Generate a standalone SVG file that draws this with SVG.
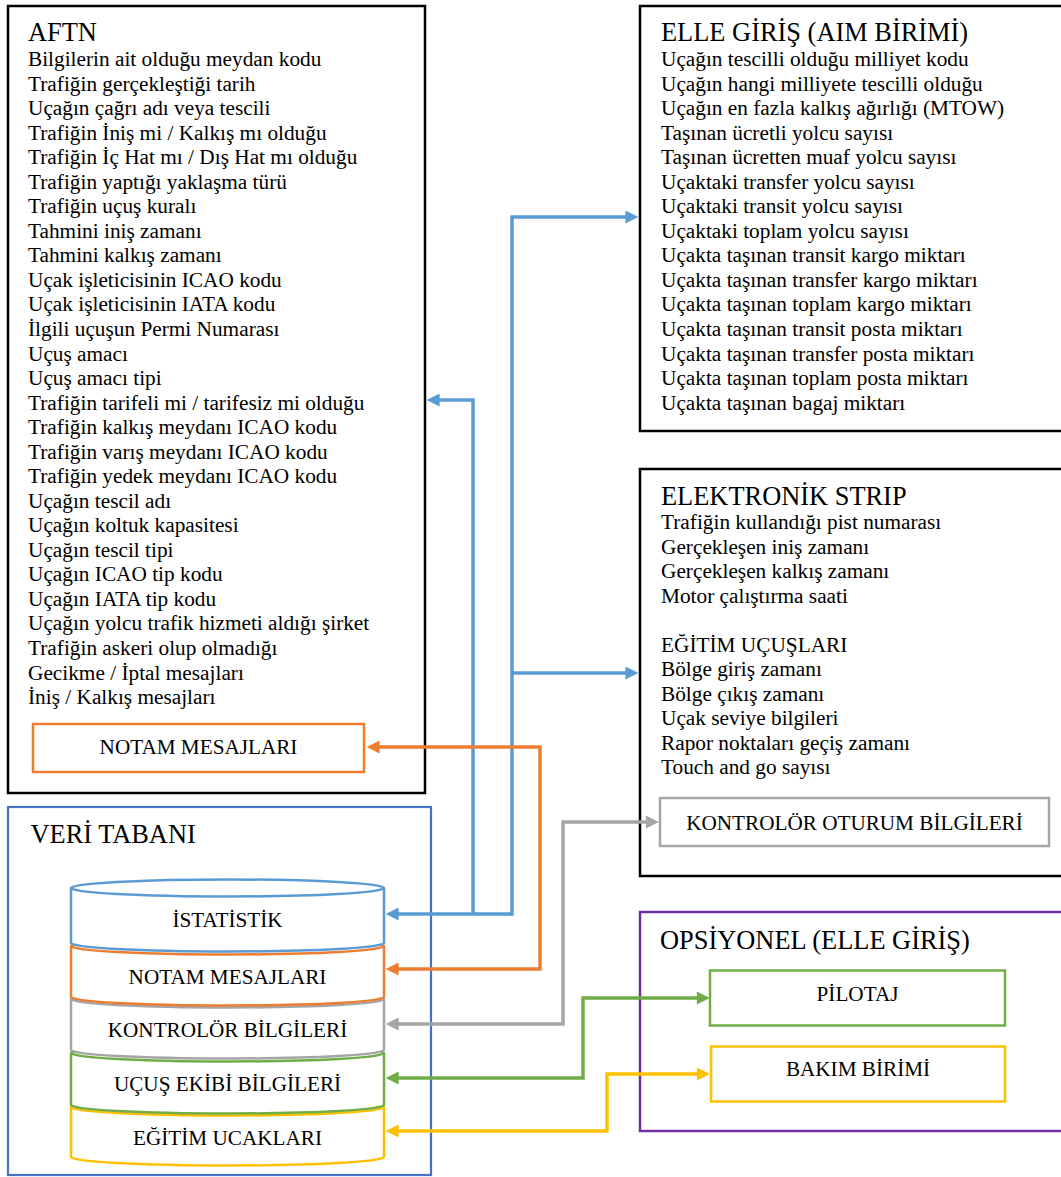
<svg xmlns="http://www.w3.org/2000/svg" width="1061" height="1177" viewBox="0 0 1061 1177">
  <style>
    text { font-family: "Liberation Serif", "Times New Roman", serif; fill: #000; }
    .title { font-size: 26.4px; }
    .body { font-size: 21.3px; }
    .lbl { font-size: 21.2px; text-anchor: middle; }
    .box { fill: #fff; stroke: #000; stroke-width: 2.5; }
    .conn { fill: none; stroke-width: 3.5; stroke-linejoin: miter; }
    .can { fill: #fff; stroke-width: 2.5; }
  </style>
  <defs>
    <marker id="ah-blue" viewBox="0 0 10 10" refX="7" refY="5" markerUnits="userSpaceOnUse" markerWidth="14" markerHeight="13" orient="auto-start-reverse"><path d="M0,0 L10,5 L0,10 z" fill="#5B9BD5"/></marker>
    <marker id="ah-orange" viewBox="0 0 10 10" refX="7" refY="5" markerUnits="userSpaceOnUse" markerWidth="14" markerHeight="13" orient="auto-start-reverse"><path d="M0,0 L10,5 L0,10 z" fill="#ED7D31"/></marker>
    <marker id="ah-gray" viewBox="0 0 10 10" refX="7" refY="5" markerUnits="userSpaceOnUse" markerWidth="14" markerHeight="13" orient="auto-start-reverse"><path d="M0,0 L10,5 L0,10 z" fill="#A5A5A5"/></marker>
    <marker id="ah-green" viewBox="0 0 10 10" refX="7" refY="5" markerUnits="userSpaceOnUse" markerWidth="14" markerHeight="13" orient="auto-start-reverse"><path d="M0,0 L10,5 L0,10 z" fill="#70AD47"/></marker>
    <marker id="ah-yellow" viewBox="0 0 10 10" refX="7" refY="5" markerUnits="userSpaceOnUse" markerWidth="14" markerHeight="13" orient="auto-start-reverse"><path d="M0,0 L10,5 L0,10 z" fill="#FFC000"/></marker>
  </defs>

  <rect width="1061" height="1177" fill="#fff"/>

  <!-- AFTN source -->
  <g id="aftn">
    <rect class="box" x="8" y="6" width="417" height="787"/>
    <text class="title" x="28" y="41">AFTN</text>
    <text class="body" x="28" y="66">Bilgilerin ait olduğu meydan kodu</text>
    <text class="body" x="28" y="90.5">Trafiğin gerçekleştiği tarih</text>
    <text class="body" x="28" y="115.1">Uçağın çağrı adı veya tescili</text>
    <text class="body" x="28" y="139.6">Trafiğin İniş mi / Kalkış mı olduğu</text>
    <text class="body" x="28" y="164.2">Trafiğin İç Hat mı / Dış Hat mı olduğu</text>
    <text class="body" x="28" y="188.7">Trafiğin yaptığı yaklaşma türü</text>
    <text class="body" x="28" y="213.2">Trafiğin uçuş kuralı</text>
    <text class="body" x="28" y="237.8">Tahmini iniş zamanı</text>
    <text class="body" x="28" y="262.3">Tahmini kalkış zamanı</text>
    <text class="body" x="28" y="286.9">Uçak işleticisinin ICAO kodu</text>
    <text class="body" x="28" y="311.4">Uçak işleticisinin IATA kodu</text>
    <text class="body" x="28" y="335.9">İlgili uçuşun Permi Numarası</text>
    <text class="body" x="28" y="360.5">Uçuş amacı</text>
    <text class="body" x="28" y="385">Uçuş amacı tipi</text>
    <text class="body" x="28" y="409.6">Trafiğin tarifeli mi / tarifesiz mi olduğu</text>
    <text class="body" x="28" y="434.1">Trafiğin kalkış meydanı ICAO kodu</text>
    <text class="body" x="28" y="458.6">Trafiğin varış meydanı ICAO kodu</text>
    <text class="body" x="28" y="483.2">Trafiğin yedek meydanı ICAO kodu</text>
    <text class="body" x="28" y="507.7">Uçağın tescil adı</text>
    <text class="body" x="28" y="532.3">Uçağın koltuk kapasitesi</text>
    <text class="body" x="28" y="556.8">Uçağın tescil tipi</text>
    <text class="body" x="28" y="581.3">Uçağın ICAO tip kodu</text>
    <text class="body" x="28" y="605.9">Uçağın IATA tip kodu</text>
    <text class="body" x="28" y="630.4">Uçağın yolcu trafik hizmeti aldığı şirket</text>
    <text class="body" x="28" y="655">Trafiğin askeri olup olmadığı</text>
    <text class="body" x="28" y="679.5">Gecikme / İptal mesajları</text>
    <text class="body" x="28" y="704">İniş / Kalkış mesajları</text>
  </g>
  <g id="aftn-notam">
    <rect x="33" y="724" width="331" height="48" fill="#fff" stroke="#ED7D31" stroke-width="2.5"/>
    <text class="lbl" x="198.5" y="754">NOTAM MESAJLARI</text>
  </g>

  <!-- Manual entry (AIM) -->
  <g id="elle-giris">
    <rect class="box" x="640" y="6" width="440" height="425"/>
    <text class="title" x="661" y="41">ELLE GİRİŞ (AIM BİRİMİ)</text>
    <text class="body" x="661" y="66">Uçağın tescilli olduğu milliyet kodu</text>
    <text class="body" x="661" y="90.5">Uçağın hangi milliyete tescilli olduğu</text>
    <text class="body" x="661" y="115.1">Uçağın en fazla kalkış ağırlığı (MTOW)</text>
    <text class="body" x="661" y="139.6">Taşınan ücretli yolcu sayısı</text>
    <text class="body" x="661" y="164.2">Taşınan ücretten muaf yolcu sayısı</text>
    <text class="body" x="661" y="188.7">Uçaktaki transfer yolcu sayısı</text>
    <text class="body" x="661" y="213.2">Uçaktaki transit yolcu sayısı</text>
    <text class="body" x="661" y="237.8">Uçaktaki toplam yolcu sayısı</text>
    <text class="body" x="661" y="262.3">Uçakta taşınan transit kargo miktarı</text>
    <text class="body" x="661" y="286.9">Uçakta taşınan transfer kargo miktarı</text>
    <text class="body" x="661" y="311.4">Uçakta taşınan toplam kargo miktarı</text>
    <text class="body" x="661" y="335.9">Uçakta taşınan transit posta miktarı</text>
    <text class="body" x="661" y="360.5">Uçakta taşınan transfer posta miktarı</text>
    <text class="body" x="661" y="385">Uçakta taşınan toplam posta miktarı</text>
    <text class="body" x="661" y="409.6">Uçakta taşınan bagaj miktarı</text>
  </g>

  <!-- Electronic strip -->
  <g id="elektronik-strip">
    <rect class="box" x="640" y="469" width="440" height="407"/>
    <text class="title" x="661" y="505">ELEKTRONİK STRIP</text>
    <text class="body" x="661" y="529">Trafiğin kullandığı pist numarası</text>
    <text class="body" x="661" y="553.5">Gerçekleşen iniş zamanı</text>
    <text class="body" x="661" y="578">Gerçekleşen kalkış zamanı</text>
    <text class="body" x="661" y="602.6">Motor çalıştırma saati</text>
    <text class="body" x="661" y="651.7">EĞİTİM UÇUŞLARI</text>
    <text class="body" x="661" y="676.2">Bölge giriş zamanı</text>
    <text class="body" x="661" y="700.8">Bölge çıkış zamanı</text>
    <text class="body" x="661" y="725.3">Uçak seviye bilgileri</text>
    <text class="body" x="661" y="749.9">Rapor noktaları geçiş zamanı</text>
    <text class="body" x="661" y="774.4">Touch and go sayısı</text>
  </g>
  <g id="kontrolor-oturum">
    <rect x="660" y="798" width="389" height="48" fill="#fff" stroke="#A5A5A5" stroke-width="2.5"/>
    <text class="lbl" x="854.5" y="829.5">KONTROLÖR OTURUM BİLGİLERİ</text>
  </g>

  <!-- Optional manual entry -->
  <g id="opsiyonel">
    <rect x="640" y="912" width="440" height="219" fill="#fff" stroke="#7030A0" stroke-width="2.5"/>
    <text class="title" x="660" y="948.5">OPSİYONEL (ELLE GİRİŞ)</text>
  </g>
  <g id="pilotaj">
    <rect x="710" y="970.5" width="295" height="55" fill="#fff" stroke="#70AD47" stroke-width="2.5"/>
    <text class="lbl" x="857.5" y="1000.5">PİLOTAJ</text>
  </g>
  <g id="bakim-birimi">
    <rect x="711" y="1046.5" width="294" height="55" fill="#fff" stroke="#FFC000" stroke-width="2.5"/>
    <text class="lbl" x="858" y="1076">BAKIM BİRİMİ</text>
  </g>

  <!-- Database with stacked tables -->
  <g id="veri-tabani">
    <rect x="8" y="807" width="423" height="368" fill="#fff" stroke="#4472C4" stroke-width="2.2"/>
    <text class="title" x="30.5" y="842.7">VERİ TABANI</text>
  </g>
  <g id="db-egitim-ucaklari">
    <path class="can" stroke="#FFC000" d="M71,1107 V1157 A156.5,8.5 0 0 0 384,1157 V1107 A156.5,8.5 0 0 0 71,1107 Z M71,1107 A156.5,8.5 0 0 0 384,1107"/>
    <text class="lbl" x="227.5" y="1144.5">EĞİTİM UCAKLARI</text>
  </g>
  <g id="db-ucus-ekibi">
    <path class="can" stroke="#70AD47" d="M71,1053 V1105 A156.5,8.5 0 0 0 384,1105 V1053 A156.5,8.5 0 0 0 71,1053 Z M71,1053 A156.5,8.5 0 0 0 384,1053"/>
    <text class="lbl" x="227.5" y="1090.5">UÇUŞ EKİBİ BİLGİLERİ</text>
  </g>
  <g id="db-kontrolor">
    <path class="can" stroke="#A5A5A5" d="M71,999 V1050 A156.5,8.5 0 0 0 384,1050 V999 A156.5,8.5 0 0 0 71,999 Z M71,999 A156.5,8.5 0 0 0 384,999"/>
    <text class="lbl" x="227.5" y="1037">KONTROLÖR BİLGİLERİ</text>
  </g>
  <g id="db-notam">
    <path class="can" stroke="#ED7D31" d="M71,946 V997 A156.5,8.5 0 0 0 384,997 V946 A156.5,8.5 0 0 0 71,946 Z M71,946 A156.5,8.5 0 0 0 384,946"/>
    <text class="lbl" x="227.5" y="984">NOTAM MESAJLARI</text>
  </g>
  <g id="db-istatistik">
    <path class="can" stroke="#5B9BD5" d="M71,888 V943 A156.5,8.5 0 0 0 384,943 V888 A156.5,8.5 0 0 0 71,888 Z M71,888 A156.5,8.5 0 0 0 384,888"/>
    <text class="lbl" x="227.5" y="927">İSTATİSTİK</text>
  </g>

  <!-- Connectors -->
  <g id="connectors">
    <path class="conn" stroke="#5B9BD5" d="M473,914 V400 H430.5" marker-end="url(#ah-blue)"/>
    <path class="conn" stroke="#5B9BD5" d="M512,673 H634.5" marker-end="url(#ah-blue)"/>
    <path class="conn" stroke="#5B9BD5" d="M389.5,914 H512 V217 H634.5" marker-start="url(#ah-blue)" marker-end="url(#ah-blue)"/>
    <path class="conn" stroke="#ED7D31" d="M389.5,969 H540 V747 H370.5" marker-start="url(#ah-orange)" marker-end="url(#ah-orange)"/>
    <path class="conn" stroke="#A5A5A5" d="M389.5,1024 H563 V822 H655" marker-start="url(#ah-gray)" marker-end="url(#ah-gray)"/>
    <path class="conn" stroke="#70AD47" d="M389.5,1078 H583 V998 H706" marker-start="url(#ah-green)" marker-end="url(#ah-green)"/>
    <path class="conn" stroke="#FFC000" d="M389.5,1131 H607 V1074 H706" marker-start="url(#ah-yellow)" marker-end="url(#ah-yellow)"/>
  </g>
</svg>
